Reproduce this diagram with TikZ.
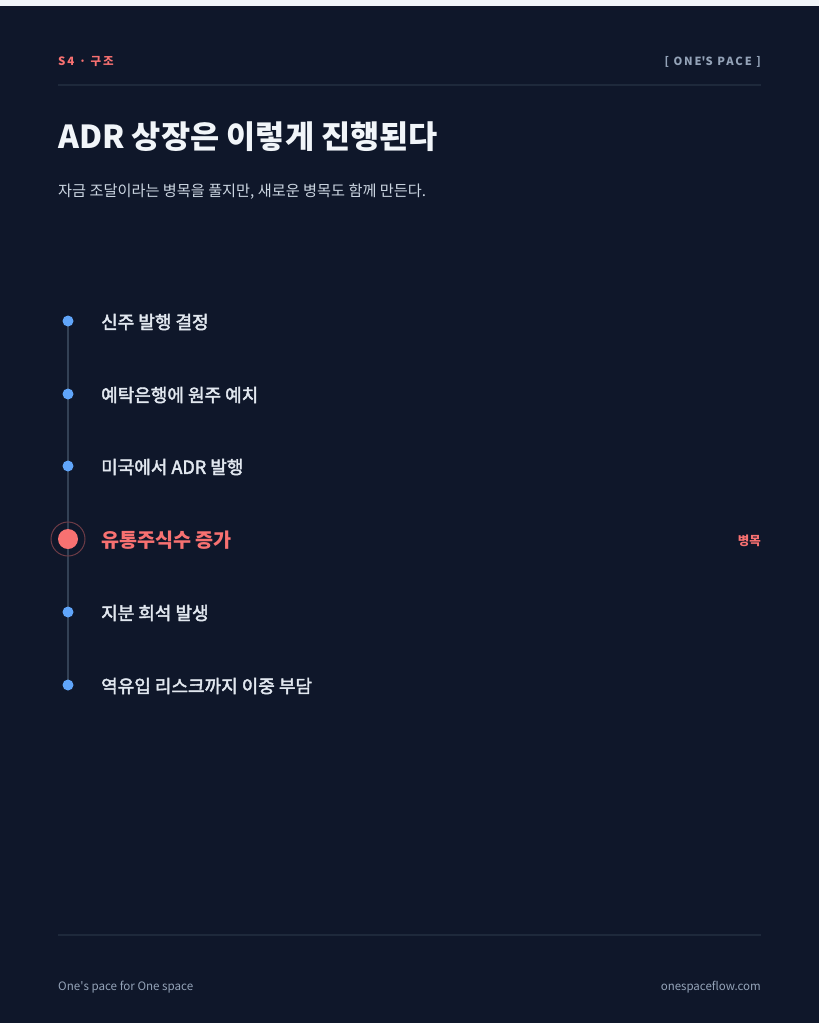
\documentclass[tikz,border=0pt]{standalone}
\usepackage{fontspec}
\setmainfont{Noto Sans CJK KR}
\newfontfamily\trackfont[LetterSpace=17]{Noto Sans CJK KR}
\newfontfamily\stepfont[FakeBold=2.4]{Noto Sans CJK KR}

\definecolor{pagebg}{HTML}{0F172A}
\definecolor{topband}{HTML}{F1F5F9}
\definecolor{rulecol}{HTML}{1E293B}
\definecolor{spinecol}{HTML}{334155}
\definecolor{dotblue}{HTML}{60A5FA}
\definecolor{hotred}{HTML}{F87171}
\definecolor{inktitle}{HTML}{F1F5F9}
\definecolor{inkstep}{HTML}{E2E8F0}
\definecolor{inksub}{HTML}{CBD5E1}
\definecolor{inkmuted}{HTML}{94A3B8}

\begin{document}
\begin{tikzpicture}[x=1pt,y=-1pt,
  txt/.style={inner sep=0pt,anchor=base west},
  rulebar/.style={draw=rulecol,line width=1.2pt},
  spine/.style={draw=spinecol,line width=1.5pt},
  dot/.style={circle,fill=dotblue,minimum size=11pt,inner sep=0pt},
  hotdot/.style={circle,fill=hotred,minimum size=20pt,inner sep=0pt},
  hotring/.style={circle,draw=hotred!40!pagebg,line width=1pt,minimum size=34pt,inner sep=0pt},
  steptxt/.style={txt,text=inkstep,font=\stepfont\fontsize{18}{21}\selectfont},
  hottxt/.style={txt,text=hotred,font=\fontsize{19.6}{23}\selectfont\bfseries}]
%\draw[help lines] (0,0) grid[step=50] (819,1023);

% page
\fill[pagebg] (0,0) rectangle (819,1023);
\fill[topband] (0,0) rectangle (819,6);
\useasboundingbox (0,0) rectangle (819,1023);

% header
\node[txt,text=hotred,font=\trackfont\fontsize{11.5}{13}\selectfont\bfseries] (sect) at (58,65.7) {S4 · 구조};
\node[txt,anchor=base east,text=inkmuted,font=\trackfont\fontsize{11.2}{13}\selectfont\bfseries] (brand) at (761,65.7) {[ ONE\textquotesingle S PACE ]};
\coordinate (hl) at (58,85);
\coordinate (hr) at (761,85);
\draw[rulebar] (hl) -- (hr);

\node[txt,text=inktitle,font=\fontsize{31.7}{36}\selectfont\bfseries] (title) at (58,148.5) {ADR 상장은 이렇게 진행된다};
\node[txt,text=inksub,font=\fontsize{15.2}{18}\selectfont] (subtitle) at (58,196.5) {자금 조달이라는 병목을 풀지만, 새로운 병목도 함께 만든다.};

% timeline
\coordinate (s1) at (68,321);
\coordinate (s2) at (68,394);
\coordinate (s3) at (68,466);
\coordinate (s4) at (68,539);
\coordinate (s5) at (68,612);
\coordinate (s6) at (68,685);
\draw[spine] (s1) -- (s6);

\node[dot] (d1) at (s1) {};
\node[dot] (d2) at (s2) {};
\node[dot] (d3) at (s3) {};
\node[hotring] (ring) at (s4) {};
\node[hotdot] (d4) at (s4) {};
\node[dot] (d5) at (s5) {};
\node[dot] (d6) at (s6) {};

\node[steptxt] (t1) at (101,328.8) {신주 발행 결정};
\node[steptxt] (t2) at (101,401.8) {예탁은행에 원주 예치};
\node[steptxt] (t3) at (101,473.8) {미국에서 ADR 발행};
\node[hottxt] (t4) at (101,547) {유통주식수 증가};
\node[steptxt] (t5) at (101,619.8) {지분 희석 발생};
\node[steptxt] (t6) at (101,692.8) {역유입 리스크까지 이중 부담};

\node[txt,anchor=base east,text=hotred,font=\fontsize{12.5}{15}\selectfont\bfseries] (tag) at (761,545.5) {병목};

% footer
\coordinate (fl) at (58,935);
\coordinate (fr) at (761,935);
\draw[rulebar] (fl) -- (fr);
\node[txt,text=inkmuted,font=\fontsize{11.6}{14}\selectfont] (motto) at (58,990.5) {One\textquotesingle s pace for One space};
\node[txt,anchor=base east,text=inkmuted,font=\fontsize{11.5}{14}\selectfont] (site) at (761,990.5) {onespaceflow.com};
\end{tikzpicture}
\end{document}
